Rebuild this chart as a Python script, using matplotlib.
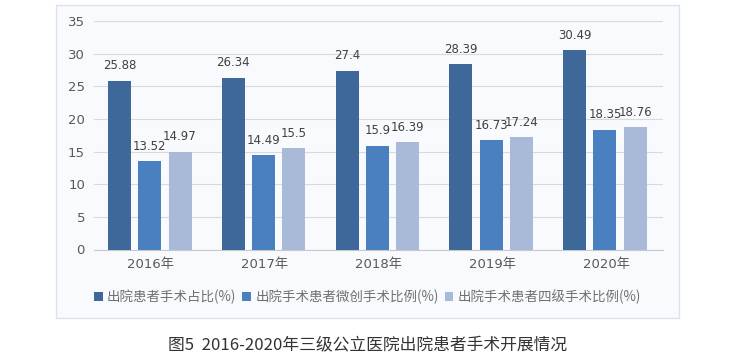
import matplotlib
matplotlib.use("Agg")
import matplotlib.pyplot as plt
import numpy as np
from matplotlib.patches import Rectangle

plt.rcParams['font.family'] = ['DejaVu Sans', 'Noto Sans CJK SC']

years = ['2016年', '2017年', '2018年', '2019年', '2020年']
surgery_ratio = [25.88, 26.34, 27.4, 28.39, 30.49]
minimal_ratio = [13.52, 14.49, 15.9, 16.73, 18.35]
level4_ratio = [14.97, 15.5, 16.39, 17.24, 18.76]
series_names = ['出院患者手术占比(%)', '出院手术患者微创手术比例(%)', '出院手术患者四级手术比例(%)']
colors = ['#3e6899', '#4a7fc0', '#a9b9d8']

fig = plt.figure(figsize=(7.3, 3.64), dpi=100)
fig.patch.set_facecolor('white')

# chart box drawn on a background axes
bg = fig.add_axes([0, 0, 1, 1], zorder=-10)
bg.axis('off')
bg.set_xlim(0, 730)
bg.set_ylim(364, 0)
bg.add_patch(Rectangle((56, 5), 679 - 56, 318 - 5, facecolor='#f8fafd',
                       edgecolor='#dce2ea', linewidth=1))

ax = fig.add_axes([94 / 730, 1 - 249.5 / 364, (663 - 94) / 730, (249.5 - 21) / 364])
ax.set_facecolor('none')

x = np.arange(len(years))
w = 0.202
step = 0.266
for i, (vals, c, name) in enumerate(zip([surgery_ratio, minimal_ratio, level4_ratio], colors, series_names)):
    bars = ax.bar(x + (i - 1) * step - 0.01, vals, width=w, color=c, label=name, zorder=3)
    for b, v in zip(bars, vals):
        ax.annotate(f'{v:g}', (b.get_x() + b.get_width() / 2, v), xytext=(0, 6),
                    textcoords='offset points', ha='center', va='bottom',
                    fontsize=8.5, color='#404040')

ax.set_xlim(-0.5, 4.5)
ax.set_ylim(0, 35)
ax.set_yticks(range(0, 36, 5))
ax.set_xticks(x)
ax.set_xticklabels(years)
ax.tick_params(axis='both', length=0, labelsize=9.5, colors='#595959')
ax.tick_params(axis='y', pad=6.5)
ax.tick_params(axis='x', pad=6)
ax.grid(axis='y', color='#d9d9d9', linewidth=0.8, zorder=0)
for s in ['top', 'right', 'left']:
    ax.spines[s].set_visible(False)
ax.spines['bottom'].set_color('#c8c8c8')

fig.legend(loc='center', bbox_to_anchor=(367.5 / 730, 1 - 297 / 364), ncol=3, frameon=False,
           prop={'family': ['Noto Sans CJK SC', 'DejaVu Sans'], 'size': 9.7},
           handlelength=0.65, handleheight=0.65, handletextpad=0.3,
           columnspacing=0.45, labelcolor='#707070')

fig.text(368 / 730, 1 - 346 / 364, '图5  2016-2020年三级公立医院出院患者手术开展情况',
         ha='center', va='center', fontsize=12.1, color='#333333',
         family=['Noto Sans CJK SC', 'DejaVu Sans'])

fig.savefig('out.png', dpi=100)
